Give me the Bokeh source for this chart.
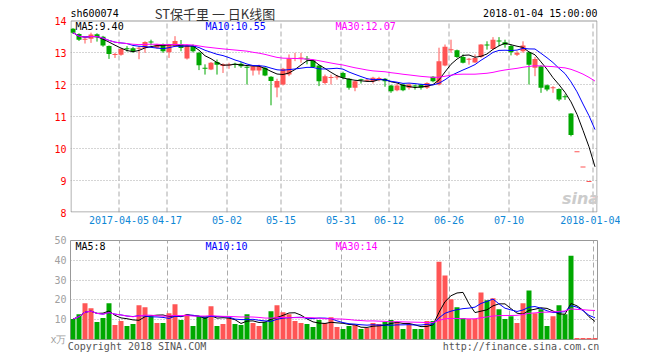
import numpy as np
import pandas as pd
from bokeh.plotting import figure
from bokeh.layouts import column
from bokeh.models import FixedTicker, Label, Range1d
from bokeh.embed import file_html
from bokeh.resources import INLINE

# ---------------- data ----------------
opens = [13.74, 13.58, 13.40, 13.43, 13.57, 13.49, 13.20, 12.92, 12.93, 13.12,
         13.13, 13.12, 13.14, 13.33, 13.15, 13.26, 13.01, 13.20, 13.25, 12.81,
         13.20, 12.99, 12.50, 12.47, 12.70, 12.58, 12.59, 12.63, 12.65, 12.53,
         12.44, 12.44, 12.52, 12.24, 11.91, 12.00, 12.31, 12.80, 12.81, 12.80,
         12.76, 12.59, 12.05, 12.20, 12.22, 12.36, 12.18, 11.90, 12.14, 12.12,
         12.10, 12.17, 12.18, 11.97, 11.82, 12.00, 11.90, 11.96, 12.00, 11.90,
         12.24, 12.00, 12.59, 13.07, 13.07, 12.86, 12.77, 12.69, 12.86, 13.24,
         13.11, 13.36, 13.32, 13.20, 12.93, 13.04, 13.01, 12.52, 12.57, 11.98,
         11.88, 11.86, 11.62, 11.09, 9.88, 9.41, 8.95, 8.48]
highs = [13.76, 13.60, 13.48, 13.62, 13.60, 13.52, 13.22, 12.99, 13.14, 13.20,
         13.18, 13.20, 13.35, 13.40, 13.27, 13.28, 13.27, 13.51, 13.39, 13.25,
         13.25, 13.02, 12.63, 12.70, 12.78, 12.66, 12.68, 12.68, 12.70, 12.57,
         12.59, 12.62, 12.54, 12.26, 12.18, 12.52, 12.94, 12.99, 12.99, 12.89,
         12.78, 12.60, 12.31, 12.31, 12.30, 12.40, 12.20, 12.12, 12.18, 12.18,
         12.24, 12.24, 12.20, 11.99, 12.03, 12.02, 12.03, 12.00, 12.02, 12.07,
         12.26, 13.15, 13.25, 13.40, 13.09, 12.94, 12.83, 12.94, 13.26, 13.35,
         13.48, 13.48, 13.40, 13.25, 13.04, 13.35, 13.03, 12.86, 12.60, 12.00,
         11.95, 11.88, 11.69, 11.10, 9.88, 9.41, 8.95, 8.48]
lows = [13.58, 13.36, 13.28, 13.30, 13.34, 13.18, 12.80, 12.83, 12.90, 13.03,
        12.99, 12.79, 12.99, 13.22, 13.12, 12.99, 12.83, 13.17, 13.04, 12.78,
        13.00, 12.45, 12.31, 12.45, 12.31, 12.36, 12.49, 12.52, 12.52, 12.00,
        12.28, 12.31, 12.26, 11.35, 11.60, 11.97, 12.26, 12.73, 12.68, 12.63,
        12.52, 11.95, 12.00, 12.00, 12.15, 12.16, 11.84, 11.79, 12.03, 12.10,
        12.03, 12.10, 11.93, 11.74, 11.79, 11.79, 11.84, 11.84, 11.84, 11.86,
        12.07, 11.97, 12.57, 12.99, 12.83, 12.66, 12.62, 12.68, 12.83, 13.09,
        13.09, 13.20, 13.15, 12.91, 12.89, 12.99, 12.00, 12.26, 11.74, 11.79,
        11.74, 11.48, 11.52, 10.38, 9.88, 9.41, 8.95, 8.48]
closes = [13.62, 13.40, 13.42, 13.56, 13.48, 13.22, 12.95, 12.93, 13.11, 13.10,
          13.04, 13.14, 13.33, 13.31, 13.25, 13.04, 13.25, 13.36, 13.14, 13.22,
          13.04, 12.60, 12.49, 12.68, 12.62, 12.63, 12.62, 12.62, 12.57, 12.52,
          12.57, 12.57, 12.28, 12.11, 12.11, 12.49, 12.81, 12.82, 12.82, 12.78,
          12.55, 12.10, 12.26, 12.21, 12.24, 12.21, 11.90, 12.10, 12.13, 12.14,
          12.21, 12.18, 12.10, 11.79, 11.97, 11.82, 12.00, 11.94, 11.90, 12.05,
          12.10, 12.73, 13.18, 13.10, 12.86, 12.68, 12.79, 12.83, 13.25, 13.22,
          13.40, 13.34, 13.24, 13.01, 12.99, 13.22, 12.62, 12.80, 11.90, 11.84,
          11.90, 11.53, 11.60, 10.42, 9.88, 9.41, 8.95, 8.48]
volumes = [10.3, 12.8, 18.3, 15.8, 8.8, 10.8, 18.3, 7.3, 9.3, 6.8,
           7.8, 17.3, 16.3, 11.8, 8.3, 8.3, 13.3, 17.8, 9.8, 12.8,
           6.8, 11.8, 11.8, 16.8, 6.8, 7.8, 10.8, 7.8, 7.3, 12.8,
           8.3, 6.8, 8.8, 14.3, 17.3, 13.8, 12.8, 9.3, 8.3, 7.8,
           6.3, 9.8, 8.3, 11.3, 6.3, 5.3, 6.8, 7.3, 5.3, 5.8,
           8.3, 7.8, 8.8, 9.8, 8.8, 5.3, 7.8, 5.3, 5.3, 9.3,
           9.3, 39.3, 32.3, 20.3, 16.3, 10.8, 10.3, 10.3, 23.8, 19.8,
           20.8, 15.3, 10.3, 11.8, 8.3, 18.3, 24.8, 13.3, 15.3, 6.8,
           11.8, 17.3, 12.8, 42.3, 0.8, 0.8, 0.8, 0.8]

tick_index = [8, 16, 26, 35, 45, 53, 63, 73, 87]
tick_labels = ["2017-04-05", "04-17", "05-02", "05-15", "05-31",
               "06-12", "06-26", "07-10", "2018-01-04"]
price_min, price_max = 8, 14
price_ticks = [8, 9, 10, 11, 12, 13, 14]
price_grid = [9, 10, 11, 12, 13]
vol_ticks = [0, 10, 20, 30, 40, 50]
vol_grid = [10, 20, 30, 40]
vol_unit = "x万"

stock_code = "sh600074"
title_text = "ST保千里 一 日K线图"
time_text = "2018-01-04 15:00:00"
price_ma_labels = ["MA5:9.40", "MA10:10.55", "MA30:12.07"]
vol_ma_labels = ["MA5:8", "MA10:10", "MA30:14"]
copyright_text = "Copyright 2018 SINA.COM"
url_text = "http://finance.sina.com.cn"

# ---------------- styling ----------------
UP = "#ff5555"
DOWN = "#00a800"
MA_COLORS = ["#000000", "#0000ff", "#ff00ff"]
MONO = "DejaVu Sans Mono"
CJK = "Noto Sans CJK SC"
GRID = "#aaaaaa"
FRAME = "#999999"

n = len(closes)
slot = np.arange(n)
xc = slot + 1.0 / 3.0          # body centre inside each 6px slot
o = np.array(opens); c = np.array(closes)
h = np.array(highs); l = np.array(lows)
colors = [UP if cc >= oo else DOWN for oo, cc in zip(o, c)]
btop = np.maximum(o, c)
bbot = np.minimum(o, c)
btop = np.where(btop - bbot < 1 / 32, bbot + 1 / 32, btop)

cs = pd.Series(closes)
vs = pd.Series(volumes)
pma = [cs.rolling(w, min_periods=1).mean().values for w in (5, 10, 30)]
vma = [vs.rolling(w, min_periods=1).mean().values for w in (5, 10, 30)]

xr = Range1d(-1 / 12, n - 0.25)
LEFT = 70
FW = 527
W = 620
HEADER = 20                     # header band (px) above the price box
PX_PER_PRICE = 32


def style_axes(p):
    p.background_fill_color = "white"
    p.border_fill_color = "white"
    for ax in p.axis:
        ax.axis_line_color = None
        ax.major_tick_line_color = None
        ax.minor_tick_line_color = None
        ax.major_tick_out = 0
        ax.major_tick_in = 0
        ax.minor_tick_out = 0
        ax.minor_tick_in = 0
        ax.major_label_text_font = MONO
        ax.major_label_text_font_size = "10px"


def lab(p, x, y, text, color, align="left", size="10px", font=MONO, style="normal"):
    p.add_layout(Label(x=x, y=y, text=text, text_color=color, text_align=align,
                       text_baseline="middle", text_font=font, text_font_size=size,
                       text_font_style=style))


def px_x(sx):
    return (sx - 70.5) / 6


def price_y(sy):
    return price_max - (sy - HEADER) / PX_PER_PRICE


def vol_y(sy):
    return 50 - (sy - 240) / 2


# ---------------- price panel (frame includes the header band) ----------------
p1 = figure(width=W, height=HEADER + 192 + 20, x_range=xr,
            y_range=Range1d(price_min, price_max + HEADER / PX_PER_PRICE),
            output_backend="svg", toolbar_location=None,
            min_border_left=LEFT, min_border_right=W - LEFT - FW,
            min_border_top=0, min_border_bottom=20)
style_axes(p1)
p1.outline_line_color = None
p1.xaxis.ticker = FixedTicker(ticks=tick_index)
p1.xaxis.major_label_overrides = {t: s for t, s in zip(tick_index, tick_labels)}
p1.xaxis.major_label_text_color = "#0e87d6"
p1.xaxis.major_label_standoff = 3
p1.yaxis.ticker = FixedTicker(ticks=price_ticks)
p1.yaxis.major_label_text_color = "#ff0000"
p1.yaxis.major_label_standoff = 4
p1.xgrid.visible = False
p1.ygrid.ticker = FixedTicker(ticks=price_grid)
p1.ygrid.grid_line_color = GRID
p1.ygrid.grid_line_dash = "1 2"

# vertical dashed grid only inside the price box
p1.segment(x0=tick_index, y0=price_min, x1=tick_index, y1=price_max,
           line_color=GRID, line_width=1, line_dash="5 3")
# price box border (half-pixel inset for crisp lines)
half = 0.5 / PX_PER_PRICE
bx0, bx1 = 0.0, n - 1 / 3
by0, by1 = price_min + half, price_max - half
p1.segment(x0=[bx0, bx1, bx0, bx0], y0=[by0, by0, by1, by0],
           x1=[bx0, bx1, bx1, bx1], y1=[by1, by1, by1, by0],
           line_color=FRAME, line_width=1)

p1.segment(x0=xc, y0=l, x1=xc, y1=h, line_color=colors, line_width=1)
p1.vbar(x=xc, width=5 / 6, top=btop, bottom=bbot, fill_color=colors, line_color=None)
for ma, col in zip(pma, MA_COLORS):
    p1.line(xc, ma, line_color=col, line_width=1)

lab(p1, px_x(70), price_y(13), stock_code, "#000000")
lab(p1, px_x(214.5), price_y(12.5), title_text, "#333333", align="center", size="13px", font=CJK)
lab(p1, px_x(597), price_y(13), time_text, "#000000", align="right")
for t, col, sx in zip(price_ma_labels, MA_COLORS, (75, 205, 335)):
    lab(p1, px_x(sx), price_y(25.5), t, col)
lab(p1, px_x(580), price_y(198), "sina", "#cccccc", align="center", size="16px",
    font="DejaVu Sans", style="bold italic")

# ---------------- volume panel ----------------
p2 = figure(width=W, height=122, x_range=xr, y_range=Range1d(0, 50),
            output_backend="svg", toolbar_location=None,
            min_border_left=LEFT, min_border_right=W - LEFT - FW,
            min_border_top=8, min_border_bottom=14)
style_axes(p2)
p2.outline_line_color = FRAME
p2.outline_line_width = 1
p2.xgrid.ticker = FixedTicker(ticks=tick_index)
p2.xgrid.grid_line_color = GRID
p2.xgrid.grid_line_dash = "5 3"
# footer texts ride on the bottom axis, centred under their text centres
foot_ticks = [11, 75]
p2.xaxis.ticker = FixedTicker(ticks=foot_ticks)
p2.xaxis.major_label_overrides = {foot_ticks[0]: copyright_text, foot_ticks[1]: url_text}
p2.xaxis.major_label_text_color = "#555555"
p2.xaxis.major_label_standoff = 1
p2.yaxis.ticker = FixedTicker(ticks=vol_ticks)
p2.yaxis.major_label_overrides = {0: vol_unit}
p2.yaxis.major_label_text_color = "#a0a0a0"
p2.yaxis.major_label_standoff = 4
p2.ygrid.ticker = FixedTicker(ticks=vol_grid)
p2.ygrid.grid_line_color = GRID
p2.ygrid.grid_line_dash = "1 2"

p2.vbar(x=xc, width=5 / 6, top=volumes, bottom=0, fill_color=colors, line_color=None)
for ma, col in zip(vma, MA_COLORS):
    p2.line(xc, ma, line_color=col, line_width=1)

for t, col, sx in zip(vol_ma_labels, MA_COLORS, (75, 205, 335)):
    lab(p2, px_x(sx), vol_y(246.5), t, col)

layout = column(p1, p2, spacing=0)
open("out.html", "w").write(file_html(layout, INLINE))
